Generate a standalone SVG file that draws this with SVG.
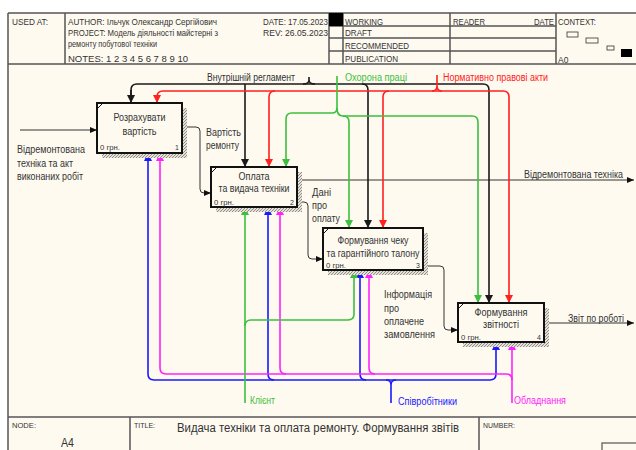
<svg xmlns="http://www.w3.org/2000/svg" width="636" height="450" viewBox="0 0 636 450">
<style>
.t{font-family:"Liberation Sans",Arial,sans-serif;fill:#333}
.h{font-size:8.5px}
.s{font-size:7px}
.b{font-size:10px}
.m{text-anchor:middle}
.fr{fill:none;stroke:#555;stroke-width:1.5}
.box{fill:#fefaf0;stroke:#111;stroke-width:2}
.sh{fill:url(#hatch)}
.io{fill:none;stroke:#333;stroke-width:1}
.k{fill:none;stroke:#1a1a1a;stroke-width:1.6}
.r{fill:none;stroke:#ff2020;stroke-width:1.6}
.g{fill:none;stroke:#3cc03c;stroke-width:1.6}
.u{fill:none;stroke:#1a1aff;stroke-width:1.6}
.p{fill:none;stroke:#ff22ff;stroke-width:1.6}
</style>
<defs>
<pattern id="hatch" width="3" height="3" patternUnits="userSpaceOnUse">
<rect width="3" height="3" fill="#e6e2d8"/>
<path d="M0,3 L3,0" stroke="#777" stroke-width="0.8"/>
</pattern>
<marker id="aio" markerWidth="7" markerHeight="6" refX="7" refY="3" orient="auto" markerUnits="userSpaceOnUse"><path d="M0,0 L7,3 L0,6 z" fill="#111"/></marker>
<marker id="ak" markerWidth="8" markerHeight="8" refX="8" refY="4" orient="auto" markerUnits="userSpaceOnUse"><path d="M0,0 L8,4 L0,8 z" fill="#1a1a1a"/></marker>
<marker id="ar" markerWidth="8" markerHeight="8" refX="8" refY="4" orient="auto" markerUnits="userSpaceOnUse"><path d="M0,0 L8,4 L0,8 z" fill="#ff2020"/></marker>
<marker id="ag" markerWidth="8" markerHeight="8" refX="8" refY="4" orient="auto" markerUnits="userSpaceOnUse"><path d="M0,0 L8,4 L0,8 z" fill="#3cc03c"/></marker>
<marker id="au" markerWidth="8" markerHeight="8" refX="8" refY="4" orient="auto" markerUnits="userSpaceOnUse"><path d="M0,0 L8,4 L0,8 z" fill="#1a1aff"/></marker>
<marker id="ap" markerWidth="8" markerHeight="8" refX="8" refY="4" orient="auto" markerUnits="userSpaceOnUse"><path d="M0,0 L8,4 L0,8 z" fill="#ff22ff"/></marker>
</defs>
<rect width="636" height="450" fill="#ffffff"/>
<rect x="8" y="13" width="628" height="437" fill="#fefaf0"/>

<g id="frame">
<path class="fr" d="M8,13 H636 M8,13 V450 M8,64 H636 M65,13 V64 M329,13 V64 M343,13 V64 M450,13 V64 M556,13 V64 M329,26 H556 M329,38 H556 M329,51 H556 M8,417 H636 M130,417 V450 M479,417 V450"/>
<rect x="329" y="13" width="14" height="13" fill="#000"/>
<rect x="602" y="443" width="40" height="12" fill="none" stroke="#555" stroke-width="1.2"/>
<rect x="567" y="32" width="11" height="5" fill="none" stroke="#333" stroke-width="0.8"/>
<rect x="586" y="38" width="12" height="5" fill="none" stroke="#333" stroke-width="0.8"/>
<rect x="607" y="46" width="7" height="4" fill="none" stroke="#333" stroke-width="0.8"/>
<rect x="621" y="49" width="11" height="8" fill="#000"/>
<text class="t h" x="12" y="25" textLength="36" lengthAdjust="spacingAndGlyphs">USED AT:</text>
<text class="t h" x="68" y="25" textLength="149" lengthAdjust="spacingAndGlyphs">AUTHOR:  Ільчук Олександр Сергійович</text>
<text class="t h" x="68" y="36" textLength="150" lengthAdjust="spacingAndGlyphs">PROJECT:  Модель діяльності майстерні з</text>
<text class="t h" x="68" y="47" textLength="89" lengthAdjust="spacingAndGlyphs">ремонту побутової техніки</text>
<text class="t h" x="68" y="62" textLength="120" lengthAdjust="spacingAndGlyphs">NOTES:  1  2  3  4  5  6  7  8  9  10</text>
<text class="t h" x="263" y="25" textLength="65" lengthAdjust="spacingAndGlyphs">DATE:  17.05.2023</text>
<text class="t h" x="263" y="36" textLength="65" lengthAdjust="spacingAndGlyphs">REV:     26.05.2023</text>
<text class="t h" x="345" y="25" textLength="38" lengthAdjust="spacingAndGlyphs">WORKING</text>
<text class="t h" x="345" y="36" textLength="27" lengthAdjust="spacingAndGlyphs">DRAFT</text>
<text class="t h" x="345" y="49" textLength="64" lengthAdjust="spacingAndGlyphs">RECOMMENDED</text>
<text class="t h" x="345" y="62" textLength="53" lengthAdjust="spacingAndGlyphs">PUBLICATION</text>
<text class="t h" x="453" y="25" textLength="32" lengthAdjust="spacingAndGlyphs">READER</text>
<text class="t h" x="534" y="25" textLength="20" lengthAdjust="spacingAndGlyphs">DATE</text>
<text class="t h" x="558" y="25" textLength="38" lengthAdjust="spacingAndGlyphs">CONTEXT:</text>
<text class="t h" x="558" y="63">A0</text>
<text class="t s" x="12" y="428" textLength="24" lengthAdjust="spacingAndGlyphs">NODE:</text>
<text class="t" x="61" y="447" font-size="12" textLength="13" lengthAdjust="spacingAndGlyphs">A4</text>
<text class="t s" x="134" y="428" textLength="21" lengthAdjust="spacingAndGlyphs">TITLE:</text>
<text class="t" x="177" y="432" font-size="12" textLength="282" lengthAdjust="spacingAndGlyphs">Видача техніки та оплата ремонту. Формування звітів</text>
<text class="t s" x="483" y="428" textLength="32" lengthAdjust="spacingAndGlyphs">NUMBER:</text>
</g>

<g id="connectors">
<path class="io" d="M20,130 H97" marker-end="url(#aio)"/>
<path class="io" d="M182,127 H196 Q200,127 200,131 V189 Q200,193 204,193 H211" marker-end="url(#aio)"/>
<path class="io" d="M297,180 H634" marker-end="url(#aio)"/>
<path class="io" d="M297,202 H304 Q308,202 308,206 V255 Q308,259 312,259 H323" marker-end="url(#aio)"/>
<path class="io" d="M423,266 H440 Q444,266 444,270 V326 Q444,330 448,330 H458" marker-end="url(#aio)"/>
<path class="io" d="M544,323 H634" marker-end="url(#aio)"/>

<path class="k" d="M131,103 V90 Q131,84 137,84 H483 Q489,84 489,90 V303" marker-end="url(#ak)"/>
<path class="k" d="M131,90 V103" marker-end="url(#ak)"/>
<path class="k" d="M245,84 V167" marker-end="url(#ak)"/>
<path class="k" d="M362,84 Q368,84 368,90 V228" marker-end="url(#ak)"/>
<path class="k" d="M309,77 V80 M303,84 Q309,84 309,80 Q309,84 315,84"/>

<path class="r" d="M157,97 Q157,91 163,91 H503 Q509,91 509,97 V303" marker-end="url(#ar)"/>
<path class="r" d="M157,97 V103" marker-end="url(#ar)"/>
<path class="r" d="M275,91 Q269,91 269,97 V167" marker-end="url(#ar)"/>
<path class="r" d="M389,91 Q383,91 383,97 V228" marker-end="url(#ar)"/>
<path class="r" d="M437,75 V86 M432,91 Q437,91 437,86 Q437,91 442,91"/>

<path class="g" d="M337,76 V108 Q337,113 332,113 H292 Q286,113 286,119 V167" marker-end="url(#ag)"/>
<path class="g" d="M337,108 Q337,116 343,116 H472 Q478,116 478,122 V303" marker-end="url(#ag)"/>
<path class="g" d="M343,116 Q349,116 349,122 V228" marker-end="url(#ag)"/>

<path class="u" d="M391,380 H154 Q148,380 148,374 V153" marker-end="url(#au)"/>
<path class="u" d="M391,380 H490 Q496,380 496,374 V342" marker-end="url(#au)"/>
<path class="u" d="M274,380 Q268,380 268,374 V207" marker-end="url(#au)"/>
<path class="u" d="M366,380 Q360,380 360,374 V270" marker-end="url(#au)"/>
<path class="u" d="M391,403 V385 M386,380 Q391,380 391,385 Q391,380 396,380"/>

<path class="p" d="M506,374 H166 Q160,374 160,368 V153" marker-end="url(#ap)"/>
<path class="p" d="M506,374 Q512,374 512,380"/>
<path class="p" d="M512,403 V342" marker-end="url(#ap)"/>
<path class="p" d="M286,374 Q280,374 280,368 V207" marker-end="url(#ap)"/>
<path class="p" d="M375,374 Q369,374 369,368 V270" marker-end="url(#ap)"/>

<path class="g" d="M245,403 V207" marker-end="url(#ag)"/>
<path class="g" d="M245,326 Q245,320 251,320 H348 Q354,320 354,314 V270" marker-end="url(#ag)"/>

<text class="t b" x="17" y="152.5" textLength="68" lengthAdjust="spacingAndGlyphs">Відремонтована</text>
<text class="t b" x="17" y="166.5" textLength="56" lengthAdjust="spacingAndGlyphs">техніка та акт</text>
<text class="t b" x="17" y="179.5" textLength="66" lengthAdjust="spacingAndGlyphs">виконаних робіт</text>
<text class="t b" x="206" y="135.5" textLength="35" lengthAdjust="spacingAndGlyphs">Вартість</text>
<text class="t b" x="206" y="148.5" textLength="33" lengthAdjust="spacingAndGlyphs">ремонту</text>
<text class="t b" x="312" y="195.5" textLength="19" lengthAdjust="spacingAndGlyphs">Дані</text>
<text class="t b" x="312" y="208.5" textLength="15" lengthAdjust="spacingAndGlyphs">про</text>
<text class="t b" x="312" y="221.5" textLength="28" lengthAdjust="spacingAndGlyphs">оплату</text>
<text class="t b" x="384" y="297.5" textLength="48" lengthAdjust="spacingAndGlyphs">Інформація</text>
<text class="t b" x="384" y="311.5" textLength="15" lengthAdjust="spacingAndGlyphs">про</text>
<text class="t b" x="384" y="324.5" textLength="40" lengthAdjust="spacingAndGlyphs">оплачене</text>
<text class="t b" x="384" y="337.5" textLength="51" lengthAdjust="spacingAndGlyphs">замовлення</text>
<text class="t b" x="524" y="177.5" textLength="99" lengthAdjust="spacingAndGlyphs">Відремонтована техніка</text>
<text class="t b" x="568" y="321.5" textLength="56" lengthAdjust="spacingAndGlyphs">Звіт по роботі</text>
<text class="t b" x="207" y="80.5" textLength="88" lengthAdjust="spacingAndGlyphs">Внутрішній регламент</text>
<text class="t b" x="345" y="80.5" textLength="62" lengthAdjust="spacingAndGlyphs" style="fill:#3cc03c">Охорона праці</text>
<text class="t b" x="443" y="80.5" textLength="105" lengthAdjust="spacingAndGlyphs" style="fill:#ff2020">Нормативно правові акти</text>
<text class="t b" x="250" y="403.5" textLength="25" lengthAdjust="spacingAndGlyphs" style="fill:#3cc03c">Клієнт</text>
<text class="t b" x="398" y="405" textLength="59" lengthAdjust="spacingAndGlyphs" style="fill:#1a1aff">Співробітники</text>
<text class="t b" x="514" y="404" textLength="52" lengthAdjust="spacingAndGlyphs" style="fill:#ff22ff">Обладнання</text>
</g>

<g id="node1">
<rect class="sh" x="102" y="108" width="85" height="50"/>
<rect class="box" x="97" y="103" width="85" height="50"/>
<path d="M98,108 L103,103" stroke="#111" stroke-width="1"/>
<text class="t b m" x="139.5" y="120.5" textLength="52" lengthAdjust="spacingAndGlyphs">Розрахувати</text>
<text class="t b m" x="139.5" y="134.5" textLength="34" lengthAdjust="spacingAndGlyphs">вартість</text>
<text class="t s" x="100" y="150" textLength="20" lengthAdjust="spacingAndGlyphs">0 грн.</text>
<text class="t s" x="179" y="150" text-anchor="end">1</text>
</g>

<g id="node2">
<rect class="sh" x="216" y="172" width="86" height="40"/>
<rect class="box" x="211" y="167" width="86" height="40"/>
<path d="M212,172 L217,167" stroke="#111" stroke-width="1"/>
<text class="t b m" x="254" y="179.5" textLength="31" lengthAdjust="spacingAndGlyphs">Оплата</text>
<text class="t b m" x="254" y="191.5" textLength="71" lengthAdjust="spacingAndGlyphs">та видача техніки</text>
<text class="t s" x="214" y="204.5" textLength="20" lengthAdjust="spacingAndGlyphs">0 грн.</text>
<text class="t s" x="294" y="204.5" text-anchor="end">2</text>
</g>

<g id="node3">
<rect class="sh" x="328" y="233" width="100" height="42"/>
<rect class="box" x="323" y="228" width="100" height="42"/>
<path d="M324,233 L329,228" stroke="#111" stroke-width="1"/>
<text class="t b m" x="373" y="243.5" textLength="71" lengthAdjust="spacingAndGlyphs">Формування чеку</text>
<text class="t b m" x="373" y="256.5" textLength="93" lengthAdjust="spacingAndGlyphs">та гарантійного талону</text>
<text class="t s" x="326" y="268" textLength="20" lengthAdjust="spacingAndGlyphs">0 грн.</text>
<text class="t s" x="420" y="268" text-anchor="end">3</text>
</g>

<g id="node4">
<rect class="sh" x="463" y="308" width="86" height="39"/>
<rect class="box" x="458" y="303" width="86" height="39"/>
<path d="M459,308 L464,303" stroke="#111" stroke-width="1"/>
<text class="t b m" x="501" y="315.5" textLength="53" lengthAdjust="spacingAndGlyphs">Формування</text>
<text class="t b m" x="501" y="327.5" textLength="36" lengthAdjust="spacingAndGlyphs">звітності</text>
<text class="t s" x="461" y="339.5" textLength="20" lengthAdjust="spacingAndGlyphs">0 грн.</text>
<text class="t s" x="541" y="339.5" text-anchor="end">4</text>
</g>
</svg>
